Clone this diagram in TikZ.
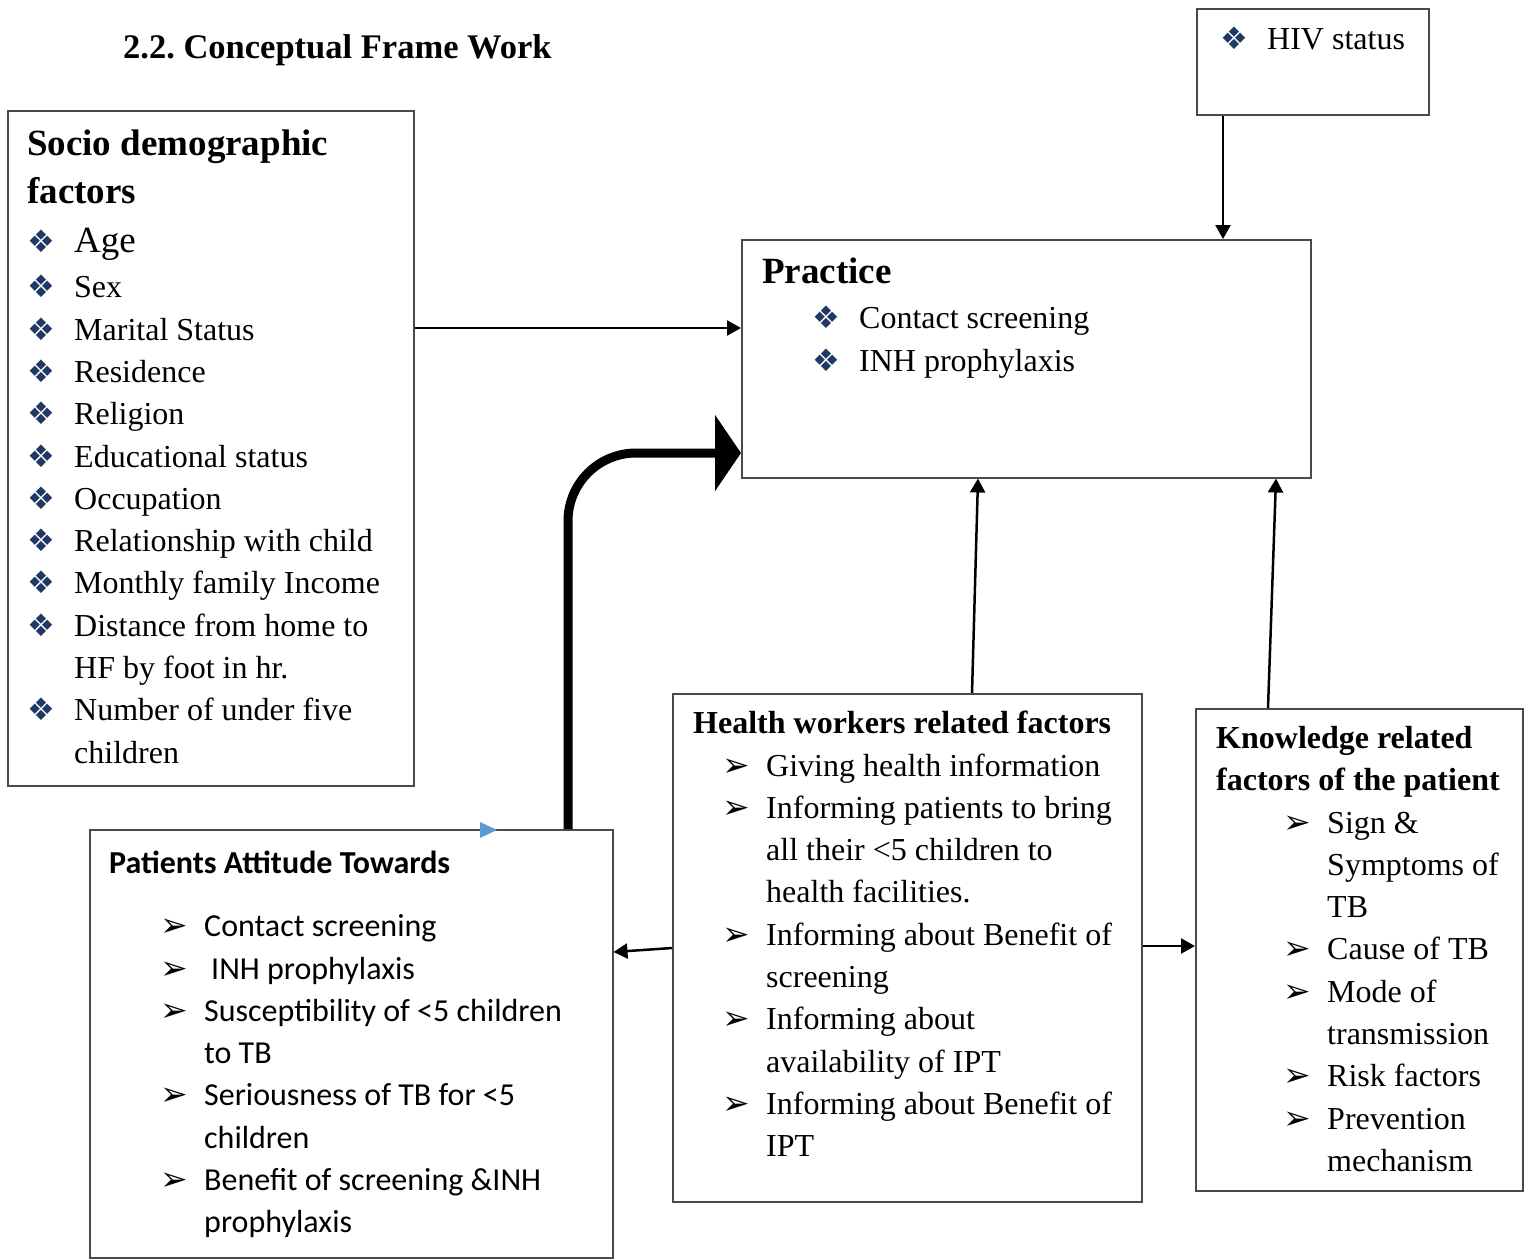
\documentclass[tikz,border=0pt]{standalone}
\usepackage{fontspec}
\setmainfont{Liberation Serif}
\newfontfamily\symfont{DejaVu Sans}
\newfontfamily\calfont{Carlito}
\usetikzlibrary{arrows.meta, positioning}

\definecolor{diablue}{HTML}{1F3864}
\definecolor{tipblue}{HTML}{5B9BD5}
\definecolor{boxgray}{HTML}{4A4A4A}

\newcommand{\dia}{\makebox[47pt][l]{\symfont\fontsize{31}{31}\selectfont\color{diablue}❖}}
\newcommand{\arr}{\makebox[44pt][l]{\symfont\fontsize{33}{33}\selectfont ➢}}
\newcommand{\ind}[1]{\hspace*{#1}}
\frenchspacing

\begin{document}
\begin{tikzpicture}[
    x=1pt, y=-1pt,
    box/.style={draw=boxgray, line width=1.5pt, anchor=north west, inner sep=0pt},
    txt/.style={anchor=north west, inner sep=0pt, align=left,
      font=\fontsize{32}{42.3}\selectfont},
    conn/.style={line width=2.5pt, -{Triangle[length=14pt,width=15pt]}},
    bigarrow/.style={line width=9pt, rounded corners=68pt,
      -{Triangle[length=26pt,width=75pt]}},
  ]
  \useasboundingbox (0,0) rectangle (1528,1259);

  %% ---- title -----------------------------------------------------------
  \node[anchor=base west, inner sep=0pt, font=\fontsize{34.5}{40}\selectfont\bfseries]
    (title) at (123,58) {2.2. Conceptual Frame Work};

  %% ---- boxes -----------------------------------------------------------
  \node[box, minimum width=406pt, minimum height=675pt] (socio)    at (7,110)    {};
  \node[box, minimum width=232pt, minimum height=106pt] (hiv)      at (1196,8)   {};
  \node[box, minimum width=569pt, minimum height=238pt] (practice) at (741,239)  {};
  \node[box, minimum width=469pt, minimum height=508pt] (health)   at (672,693)  {};
  \node[box, minimum width=327pt, minimum height=482pt] (know)     at (1195,708) {};
  \node[box, minimum width=523pt, minimum height=428pt] (pat)      at (89,829)   {};

  %% ---- box texts -------------------------------------------------------
  \node[txt] (sociotxt) at (27,130) {%
    {\fontsize{37}{48}\selectfont\bfseries Socio demographic}\\[5.7pt]
    {\fontsize{37}{48}\selectfont\bfseries factors}\\[6.7pt]
    \dia{\fontsize{37}{48}\selectfont Age}\\[2.7pt]
    \dia Sex\\
    \dia Marital Status\\
    \dia Residence\\
    \dia Religion\\
    \dia Educational status\\
    \dia Occupation\\
    \dia Relationship with child\\
    \dia Monthly family Income\\
    \dia Distance from home to\\
    \ind{47pt}HF by foot in hr.\\
    \dia Number of under five\\
    \ind{47pt}children};

  \node[txt] (hivtxt) at (1220,27) {\dia HIV status};

  \node[txt] (practicetxt) at (762,258) {%
    {\fontsize{37}{48}\selectfont\bfseries Practice}\\[2.7pt]
    \ind{50pt}\dia Contact screening\\
    \ind{50pt}\dia INH prophylaxis};

  \node[txt] (healthtxt) at (693,711) {%
    \textbf{Health workers related factors}\\
    \ind{29pt}\arr Giving health information\\
    \ind{29pt}\arr Informing patients to bring\\
    \ind{73pt}all their <5 children to\\
    \ind{73pt}health facilities.\\
    \ind{29pt}\arr Informing about Benefit of\\
    \ind{73pt}screening\\
    \ind{29pt}\arr Informing about\\
    \ind{73pt}availability of IPT\\
    \ind{29pt}\arr Informing about Benefit of\\
    \ind{73pt}IPT};

  \node[txt] (knowtxt) at (1216,726) {%
    \textbf{Knowledge related}\\
    \textbf{factors of the patient}\\
    \ind{67pt}\arr Sign \&\\
    \ind{111pt}Symptoms of\\
    \ind{111pt}TB\\
    \ind{67pt}\arr Cause of TB\\
    \ind{67pt}\arr Mode of\\
    \ind{111pt}transmission\\
    \ind{67pt}\arr Risk factors\\
    \ind{67pt}\arr Prevention\\
    \ind{111pt}mechanism};

  \node[txt, font=\fontsize{32}{42.3}\selectfont\calfont] (pattxt) at (109,851) {%
    \textbf{Patients Attitude Towards}\\[20.7pt]
    \ind{51pt}\arr Contact screening\\
    \ind{51pt}\arr\hspace{7pt}INH prophylaxis\\
    \ind{51pt}\arr Susceptibility of <5 children\\
    \ind{95pt}to TB\\
    \ind{51pt}\arr Seriousness of TB for <5\\
    \ind{95pt}children\\
    \ind{51pt}\arr Benefit of screening \&INH\\
    \ind{95pt}prophylaxis};

  %% ---- connectors ------------------------------------------------------
  \draw[conn] ([yshift=-218pt]socio.north east) -- ([yshift=-89pt]practice.north west);
  \draw[conn] ([xshift=27pt]hiv.south west) -- ([xshift=482pt]practice.north west);
  \draw[conn] ([xshift=300pt]health.north west) -- ([xshift=237pt]practice.south west);
  \draw[conn] ([xshift=73pt]know.north west) -- ([xshift=535pt]practice.south west);
  \draw[conn] ([yshift=-255pt]health.north west) -- ([yshift=-123pt]pat.north east);
  \draw[conn] ([yshift=-253pt]health.north east) -- ([yshift=-238pt]know.north west);
  \draw[bigarrow] ([xshift=479pt]pat.north west) |- ([yshift=-214pt]practice.north west);

  % stray marker on the attitude box
  \fill[tipblue] (480,822) -- (497,830) -- (480,838) -- cycle;
\end{tikzpicture}
\end{document}
